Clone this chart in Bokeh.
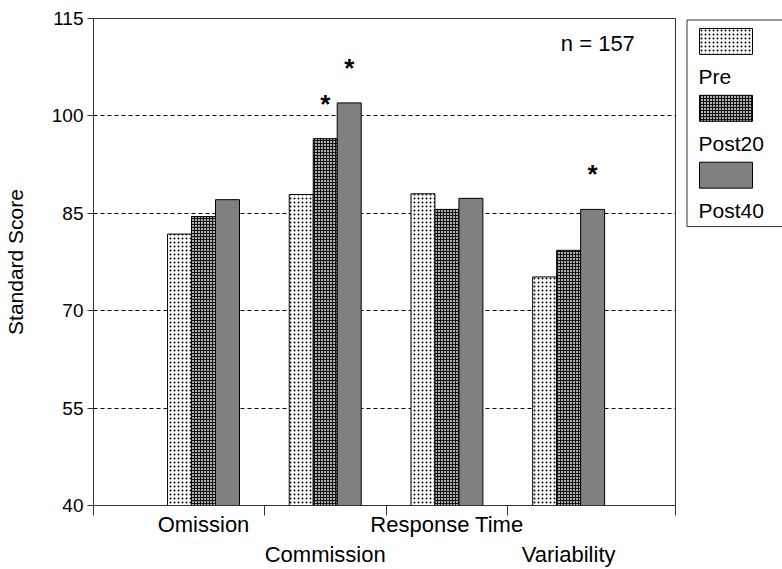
import numpy as np
from bokeh.plotting import figure
from bokeh.models import Range1d, FixedTicker, LinearAxis, ColumnDataSource
from bokeh.layouts import row
from bokeh.core.properties import value
from bokeh.embed import file_html
from bokeh.resources import INLINE

categories = ["Omission", "Commission", "Response Time", "Variability"]
series = ["Pre", "Post20", "Post40"]
pre = [81.8, 87.9, 88.0, 75.2]
post20 = [84.5, 96.5, 85.6, 79.3]
post40 = [87.1, 102.0, 87.3, 85.6]
y_ticks = [40, 55, 70, 85, 100, 115]
significant = [(1, 1), (1, 2), (3, 2)]  # (category index, series index)
n_text = "n = 157"
y_title = "Standard Score"

FONT = "Liberation Sans"
values_by_series = [pre, post20, post40]
styles = [
    dict(fill_color="white", hatch_pattern="dot", hatch_scale=4, hatch_color="black", hatch_weight=1),
    dict(fill_color="#b0b0b0", hatch_pattern="cross", hatch_scale=3, hatch_color="#111111", hatch_weight=1),
    dict(fill_color="#808080"),
]

bw = 0.197
cx = np.arange(1, len(categories) + 1)

p = figure(width=683, height=569, output_backend="svg", toolbar_location=None,
           x_range=Range1d(0.096, 4.878), y_range=Range1d(40, 115),
           min_border_left=93, min_border_right=8, min_border_top=18, min_border_bottom=63)
p.outline_line_color = "#333333"
p.outline_line_width = 1
p.background_fill_color = "white"
p.border_fill_color = "white"

# bars
for si, vals in enumerate(values_by_series):
    src = ColumnDataSource(dict(x=cx + (si - 1) * bw, top=vals))
    p.vbar(x="x", top="top", bottom=40, width=bw, source=src,
           line_color="black", line_width=1, **styles[si])

# significance stars
sx = [cx[c] + (s - 1) * bw for c, s in significant]
sy = [values_by_series[s][c] for c, s in significant]
p.text(x=sx, y=sy, text=["*"] * len(sx), text_font=value(FONT), text_font_size="26px",
       text_font_style="bold", text_align="center", text_baseline="middle", y_offset=-35,
       text_color="black")

# n label
p.text(x=[4.24], y=[111.2], text=[n_text], text_font=value(FONT), text_font_size="22px",
       text_align="center", text_baseline="middle", text_color="black")

# grid
p.xgrid.visible = False
p.ygrid.ticker = FixedTicker(ticks=y_ticks[1:-1])
p.ygrid.grid_line_color = "black"
p.ygrid.grid_line_dash = "4 3"
p.ygrid.grid_line_width = 1

# y axis
ya = p.yaxis[0]
ya.ticker = FixedTicker(ticks=y_ticks)
ya.axis_label = y_title
ya.axis_label_text_font = FONT
ya.axis_label_text_font_size = "21px"
ya.axis_label_text_font_style = "normal"
ya.axis_label_text_color = "black"
ya.axis_label_standoff = 22
ya.major_label_text_font = FONT
ya.major_label_text_font_size = "19px"
ya.major_label_text_color = "black"
ya.major_tick_out = 6
ya.major_tick_in = 0
ya.minor_tick_line_color = None
ya.axis_line_color = "#333333"
ya.major_tick_line_color = "#333333"
ya.major_label_standoff = 4

# x axis with tick marks only
xa = p.xaxis[0]
xa.ticker = FixedTicker(ticks=[0.096, 1.5, 2.5, 3.5, 4.878])
xa.major_label_text_font_size = "1px"
xa.major_label_text_alpha = 0
xa.major_label_standoff = 0
xa.major_tick_out = 10
xa.major_tick_in = 0
xa.minor_tick_line_color = None
xa.axis_line_color = "#333333"
xa.major_tick_line_color = "#333333"

def label_axis(idx, standoff):
    ax = LinearAxis(ticker=FixedTicker(ticks=[float(cx[i]) for i in idx]),
                    major_label_overrides={float(cx[i]): categories[i] for i in idx})
    ax.axis_line_color = None
    ax.major_tick_line_color = None
    ax.minor_tick_line_color = None
    ax.major_tick_out = 0
    ax.major_tick_in = 0
    ax.major_label_standoff = standoff
    ax.major_label_text_font = FONT
    ax.major_label_text_font_size = "22px"
    ax.major_label_text_color = "black"
    p.add_layout(ax, "below")

label_axis([0, 2], -4)
label_axis([1, 3], 2)

# legend figure (frame aligned with the main frame: data units = screen pixels)
lg = figure(width=99, height=569, output_backend="svg", toolbar_location=None,
            x_range=Range1d(0, 99), y_range=Range1d(506, 18),
            x_axis_type=None, y_axis_type=None,
            min_border_left=0, min_border_right=0, min_border_top=18, min_border_bottom=63)
lg.outline_line_color = None
lg.xgrid.visible = False
lg.ygrid.visible = False
lg.segment(x0=[3.5, 3.5, 3.5], y0=[19.5, 19.5, 226.5], x1=[3.5, 120, 120], y1=[226.5, 19.5, 226.5],
           line_color="#333333", line_width=1)
for si, name in enumerate(series):
    top = 28 + 67 * si
    lg.quad(left=[16], right=[69], top=[top], bottom=[top + 26],
            line_color="black", line_width=1, **styles[si])
    lg.text(x=[15], y=[top + 26 + 22], text=[name], text_font=value(FONT), text_font_size="21px",
            text_align="left", text_baseline="middle", text_color="black")

layout = row(p, lg, spacing=0)
open("out.html", "w").write(file_html(layout, INLINE))
